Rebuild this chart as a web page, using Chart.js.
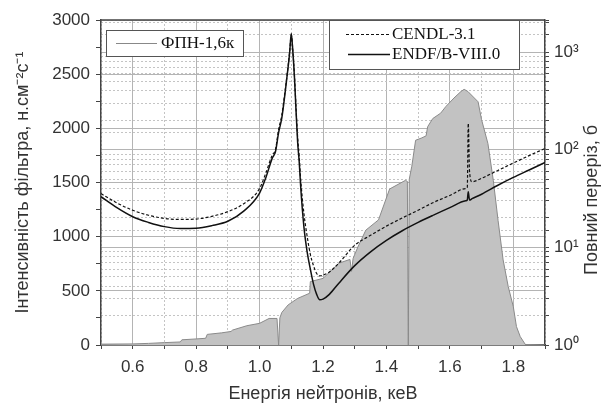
<!DOCTYPE html>
<html>
<head>
<meta charset="utf-8">
<script src="https://cdn.jsdelivr.net/npm/chart.js@4.4.0/dist/chart.umd.min.js"></script>
<style>
  html, body { margin: 0; padding: 0; background: #fff; }
  #wrap { width: 604px; height: 405px; }
</style>
</head>
<body>
<div id="wrap"><canvas id="chart" width="604" height="405"></canvas></div>
<script>
'use strict';

// filter spectrum (left axis), energy in keV
const filterE = [0.50, 0.60, 0.65, 0.70, 0.75, 0.755, 0.80, 0.83, 0.835, 0.88, 0.91, 0.915, 0.96, 1.00, 1.03, 1.055,
  1.06, 1.064, 1.07, 1.09, 1.12, 1.158, 1.16, 1.20, 1.25, 1.285, 1.29, 1.295, 1.31, 1.335, 1.375, 1.41, 1.46, 1.466,
  1.469, 1.472, 1.48, 1.492, 1.51, 1.525, 1.53, 1.546, 1.571, 1.587, 1.613, 1.635, 1.645, 1.657, 1.689, 1.70, 1.72,
  1.737, 1.752, 1.768, 1.784, 1.80, 1.81, 1.822, 1.838, 1.90];
const filterFlux = [8, 10, 15, 22, 28, 48, 56, 62, 98, 112, 125, 138, 178, 200, 245, 245,
  0, 250, 300, 370, 430, 478, 585, 615, 755, 790, 680, 800, 905, 1060, 1155, 1440, 1520, 1510,
  0, 1530, 1650, 1890, 1910, 1930, 2015, 2090, 2140, 2200, 2280, 2340, 2360, 2340, 2245, 2080, 1860,
  1520, 1150, 785, 540, 355, 170, 77, 5, 0];

// total cross section (right axis), b
const xsE = [0.50, 0.55, 0.60, 0.65, 0.70, 0.75, 0.80, 0.85, 0.90, 0.95, 1.00, 1.02, 1.04, 1.05, 1.06, 1.07, 1.08,
  1.09, 1.095, 1.10, 1.105, 1.11, 1.115, 1.12, 1.125, 1.13, 1.14, 1.15, 1.16, 1.17, 1.18, 1.19, 1.20, 1.22, 1.25,
  1.30, 1.35, 1.40, 1.45, 1.50, 1.55, 1.60, 1.65, 1.655, 1.658, 1.662, 1.67, 1.70, 1.75, 1.80, 1.85, 1.90];
const cendl = [35.5, 28.5, 24, 21.3, 19.8, 19.3, 19.5, 20.8, 23.2, 28, 40, 58, 88, 100, 160, 225, 390,
  720, 1020, 1500, 1020, 580, 270, 135, 85, 48, 22, 13, 8.5, 6.5, 5.4, 5.1, 5.2, 5.6, 6.9,
  10.5, 13.3, 16.5, 20, 24, 29, 34, 40, 41, 186, 60, 47, 51, 61, 73, 87, 103];
const endf = [33, 25.5, 20.6, 18, 16.3, 15.6, 15.7, 16.7, 18.5, 23.5, 36, 52, 82, 95, 150, 210, 370,
  700, 1000, 1550, 1000, 550, 250, 120, 75, 40, 16, 9, 6, 4.2, 3.3, 2.9, 2.95, 3.3, 4.3,
  6.5, 9.0, 11.8, 14.8, 18, 21.5, 25.5, 30, 30.5, 37, 30.5, 31.5, 35, 43, 52, 62, 74];

const decades = [1, 10, 100, 1000];
const decadeLabels = ['10⁰', '10¹', '10²', '10³'];

const sans = 'Liberation Sans, Arial, sans-serif';
const serif = 'Liberation Serif, Times New Roman, serif';
const axisColor = '#444';
const gridMajor = '#b4b4b4';
const gridMinor = '#c4c4c4';

function isDecade(v) {
  const l = Math.log10(v);
  return Math.abs(l - Math.round(l)) < 1e-9;
}
function isEvenTenth(v) {
  return Math.round(v * 10) % 2 === 0;
}

const extras = {
  id: 'extras',
  afterDraw(chart) {
    const ctx = chart.ctx;
    const a = chart.chartArea;
    ctx.save();
    // top frame line
    ctx.strokeStyle = axisColor;
    ctx.lineWidth = 1.5;
    ctx.beginPath();
    ctx.moveTo(a.left, a.top);
    ctx.lineTo(a.right, a.top);
    ctx.stroke();

    // legend box 1
    ctx.fillStyle = '#fff';
    ctx.strokeStyle = '#555';
    ctx.lineWidth = 1;
    ctx.fillRect(106, 30, 137, 26);
    ctx.strokeRect(106.5, 30.5, 137, 26);
    ctx.strokeStyle = '#888';
    ctx.beginPath();
    ctx.moveTo(116, 43.5);
    ctx.lineTo(157, 43.5);
    ctx.stroke();
    ctx.fillStyle = '#111';
    ctx.font = '17px ' + serif;
    ctx.textBaseline = 'middle';
    ctx.textAlign = 'left';
    ctx.fillText('ФПН-1,6к', 161, 44);

    // legend box 2
    ctx.fillStyle = '#fff';
    ctx.strokeStyle = '#555';
    ctx.fillRect(329, 20, 190, 49);
    ctx.strokeRect(329.5, 20.5, 190, 49);
    ctx.strokeStyle = '#111';
    ctx.lineWidth = 1.2;
    ctx.setLineDash([3, 2]);
    ctx.beginPath();
    ctx.moveTo(346, 34.5);
    ctx.lineTo(390, 34.5);
    ctx.stroke();
    ctx.setLineDash([]);
    ctx.lineWidth = 1.5;
    ctx.beginPath();
    ctx.moveTo(348, 54.5);
    ctx.lineTo(390, 54.5);
    ctx.stroke();
    ctx.fillStyle = '#111';
    ctx.fillText('CENDL-3.1', 392, 35);
    ctx.fillText('ENDF/B-VIII.0', 392, 55);

    // right axis title, reads bottom to top
    ctx.translate(592, 200);
    ctx.rotate(-Math.PI / 2);
    ctx.fillStyle = '#333';
    ctx.font = '18px ' + sans;
    ctx.textAlign = 'center';
    ctx.fillText('Повний переріз, б', 0, 0);
    ctx.restore();
  }
};

new Chart(document.getElementById('chart'), {
  type: 'line',
  data: {
    datasets: [
      {
        label: 'CENDL-3.1',
        data: xsE.map((e, i) => ({x: e, y: cendl[i]})),
        yAxisID: 'y2',
        borderColor: '#111',
        borderWidth: 1.2,
        borderDash: [3, 2],
        pointRadius: 0,
        fill: false,
        cubicInterpolationMode: 'monotone',
        order: 2
      },
      {
        label: 'ENDF/B-VIII.0',
        data: xsE.map((e, i) => ({x: e, y: endf[i]})),
        yAxisID: 'y2',
        borderColor: '#111',
        borderWidth: 1.5,
        pointRadius: 0,
        fill: false,
        cubicInterpolationMode: 'monotone',
        order: 1
      },
      {
        label: 'ФПН-1,6к',
        data: filterE.map((e, i) => ({x: e, y: filterFlux[i]})),
        yAxisID: 'y',
        borderColor: '#8a8a8a',
        borderWidth: 1,
        backgroundColor: '#c2c2c2',
        pointRadius: 0,
        fill: 'origin',
        tension: 0,
        order: 3
      }
    ]
  },
  options: {
    responsive: false,
    animation: false,
    layout: { padding: { top: 20, left: 0, right: 0, bottom: 0 } },
    plugins: {
      legend: { display: false },
      tooltip: { enabled: false }
    },
    scales: {
      x: {
        type: 'linear',
        min: 0.5,
        max: 1.9,
        afterFit: function(s) { s.height = 60; },
        ticks: {
          stepSize: 0.1,
          autoSkip: false,
          maxRotation: 0,
          padding: 8,
          color: '#333',
          font: { family: sans, size: 17 },
          callback: function(v) {
            const r = Math.round(v * 10);
            return (r % 2 === 0) ? (r / 10).toFixed(1) : '';
          }
        },
        grid: {
          color: c => c.tick && isEvenTenth(c.tick.value) ? gridMajor : gridMinor,
          tickColor: axisColor,
          tickLength: 4
        },
        border: {
          color: axisColor,
          width: 1.5,
          dash: c => c.tick && !isEvenTenth(c.tick.value) ? [2, 2] : []
        },
        title: {
          display: true,
          text: 'Енергія нейтронів, кеВ',
          color: '#333',
          font: { family: sans, size: 18 },
          padding: { top: 4, bottom: 0 }
        }
      },
      y: {
        position: 'left',
        min: 0,
        max: 3000,
        afterFit: function(s) { s.width = 101; },
        ticks: {
          stepSize: 250,
          autoSkip: false,
          padding: 6,
          color: '#333',
          font: { family: sans, size: 17 },
          callback: v => v % 500 === 0 ? String(v) : ''
        },
        grid: {
          color: c => c.tick && c.tick.value % 500 === 0 ? gridMajor : 'rgba(0,0,0,0)',
          tickColor: axisColor,
          tickLength: 5
        },
        border: { color: axisColor, width: 1.5 },
        title: {
          display: true,
          text: 'Інтенсивність фільтра, н.см⁻²с⁻¹',
          color: '#333',
          font: { family: sans, size: 18 },
          padding: { top: 12, bottom: 0 }
        }
      },
      y2: {
        type: 'logarithmic',
        position: 'right',
        min: 1,
        max: 2130,
        afterFit: function(s) { s.width = 59; },
        ticks: {
          autoSkip: false,
          padding: 5,
          color: '#333',
          font: { family: sans, size: 17 },
          callback: function(v) {
            const i = decades.indexOf(v);
            return i >= 0 ? decadeLabels[i] : '';
          }
        },
        grid: {
          color: c => c.tick && isDecade(c.tick.value) ? gridMajor : gridMinor,
          tickColor: axisColor,
          tickLength: 4
        },
        border: {
          color: axisColor,
          width: 1.5,
          dash: c => c.tick && !isDecade(c.tick.value) ? [2, 2] : []
        }
      }
    }
  },
  plugins: [extras]
});
</script>
</body>
</html>
